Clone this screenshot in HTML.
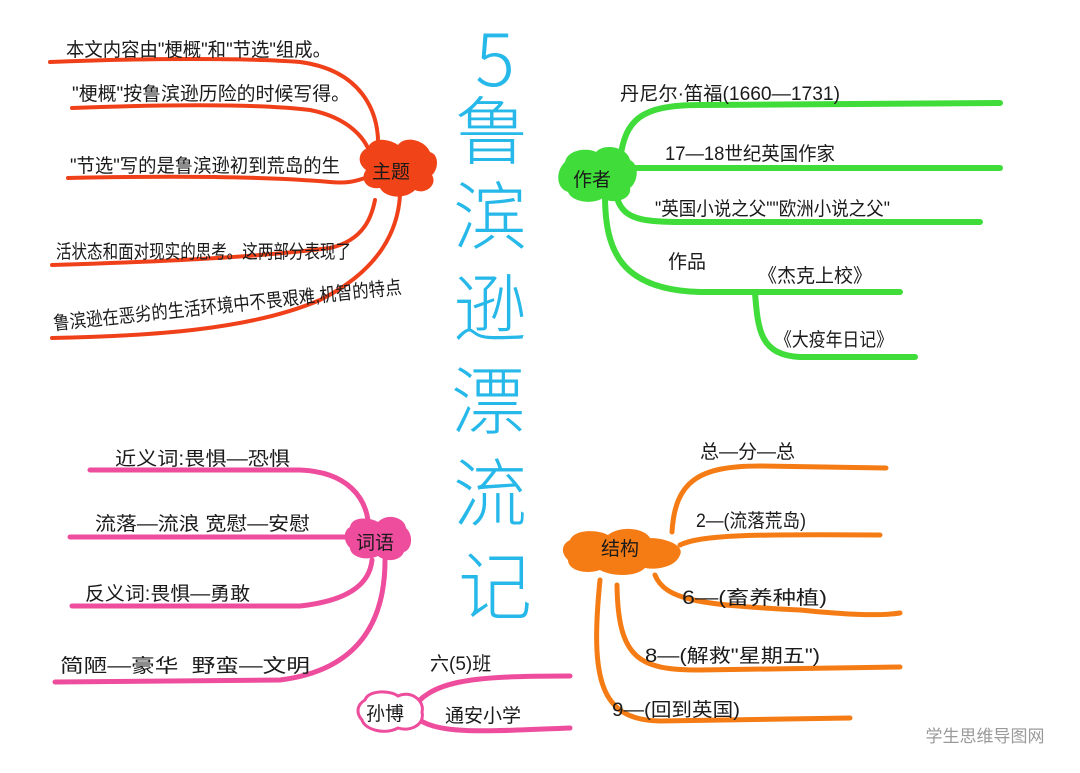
<!DOCTYPE html>
<html><head><meta charset="utf-8"><style>
html,body{margin:0;padding:0;background:#fff;}
svg{display:block}
.t{font-family:"Liberation Sans","Noto Sans CJK SC",sans-serif;fill:#1a1a1a;font-size:19px}
.ti{font-family:"Noto Sans CJK SC","Liberation Sans",sans-serif;fill:#27b8ea;font-size:74px;font-weight:300;text-anchor:middle}
</style></head><body>
<svg width="1080" height="773" viewBox="0 0 1080 773">
<!-- title -->
<text class="ti" x="495" y="86" font-family="Liberation Sans,sans-serif">5</text>
<text class="ti" x="492" y="158">鲁</text>
<text class="ti" x="490" y="243">滨</text>
<text class="ti" x="490" y="335">逊</text>
<text class="ti" x="488" y="428">漂</text>
<text class="ti" x="490" y="520">流</text>
<text class="ti" x="495" y="613">记</text>

<!-- red topic -->
<g fill="none" stroke="#f0401a" stroke-width="4" stroke-linecap="round">
<path d="M50 62 C150 58 250 58 300 62 C360 70 380 110 378 150"/>
<path d="M72 108 C180 104 260 104 310 110 C350 118 368 140 372 160"/>
<path d="M68 178 C160 176 260 176 330 182 C350 184 358 180 365 178"/>
<path d="M52 265 C150 262 250 258 330 248 C365 240 372 215 375 200"/>
<path d="M52 338 C150 336 250 330 320 300 C380 270 398 230 400 195"/>
</g>
<path d="M368 148 C372 135 392 140 398 145 C405 135 425 140 430 152 C440 155 438 170 432 175 C438 185 425 195 415 190 C405 200 385 198 380 188 C365 190 360 178 366 170 C355 162 360 150 368 148Z" fill="#f04318"/>
<text class="t" x="372" y="178" font-size="16">主题</text>
<text class="t" x="66" y="56" textLength="265" lengthAdjust="spacingAndGlyphs">本文内容由"梗概"和"节选"组成。</text>
<text class="t" x="72" y="100" textLength="278" lengthAdjust="spacingAndGlyphs">"梗概"按鲁滨逊历险的时候写得。</text>
<text class="t" x="70" y="172" textLength="270" lengthAdjust="spacingAndGlyphs">"节选"写的是鲁滨逊初到荒岛的生</text>
<text class="t" x="56" y="258" textLength="295" lengthAdjust="spacingAndGlyphs">活状态和面对现实的思考。这两部分表现了</text>
<text class="t" x="54" y="330" textLength="350" lengthAdjust="spacingAndGlyphs" transform="rotate(-6 54 330)">鲁滨逊在恶劣的生活环境中不畏艰难,机智的特点</text>

<!-- green author -->
<g fill="none" stroke="#3fdc3a" stroke-width="6" stroke-linecap="round">
<path d="M620 160 C625 120 640 105 700 105 L1000 103"/>
<path d="M628 168 L1000 168"/>
<path d="M615 190 C620 215 630 222 680 222 L980 222"/>
<path d="M605 195 C605 250 620 290 700 292 L900 292"/>
<path d="M755 293 C758 330 760 355 800 357 L915 357"/>
</g>
<path d="M565 162 C568 148 590 148 596 152 C605 142 628 148 630 160 C640 165 638 182 630 188 C632 200 612 205 603 198 C592 205 572 202 568 192 C555 188 556 170 565 162Z" fill="#3fdc3a"/>
<text class="t" x="573" y="186" font-size="17">作者</text>
<text class="t" x="620" y="100" textLength="220" lengthAdjust="spacingAndGlyphs">丹尼尔·笛福(1660—1731)</text>
<text class="t" x="665" y="160" textLength="170" lengthAdjust="spacingAndGlyphs">17—18世纪英国作家</text>
<text class="t" x="655" y="215" textLength="235" lengthAdjust="spacingAndGlyphs">"英国小说之父""欧洲小说之父"</text>
<text class="t" x="668" y="268">作品</text>
<text class="t" x="758" y="282">《杰克上校》</text>
<text class="t" x="775" y="346" textLength="118" lengthAdjust="spacingAndGlyphs">《大疫年日记》</text>

<!-- pink words -->
<g fill="none" stroke="#ee4d9d" stroke-width="5" stroke-linecap="round">
<path d="M90 470 L300 470 C350 472 365 500 368 520"/>
<path d="M70 537 L350 537"/>
<path d="M72 606 L300 606 C355 600 370 580 372 560"/>
<path d="M55 682 L280 680 C360 670 385 620 385 560"/>
<path d="M365 705 C380 700 400 705 410 712 M410 712 C430 680 470 676 570 676 M410 712 C430 735 470 732 570 728"/>
</g>
<path d="M350 527 C352 515 372 518 378 522 C388 512 405 518 406 528 C414 535 412 550 404 552 C400 562 385 562 378 556 C365 562 350 556 350 548 C342 540 344 530 350 527Z" fill="#ee4d9d"/>
<text class="t" x="356" y="549" font-size="17">词语</text>
<path d="M365 700 C368 690 390 690 398 696 C410 690 425 700 422 712 C425 725 410 732 398 728 C385 735 365 730 362 720 C355 712 358 704 365 700Z" fill="#fff" stroke="#ee4d9d" stroke-width="3"/>
<text class="t" x="366" y="720" font-size="16">孙博</text>
<text class="t" x="430" y="670" font-size="15">六(5)班</text>
<text class="t" x="445" y="722" font-size="18">通安小学</text>
<text class="t" x="115" y="465" textLength="175" lengthAdjust="spacingAndGlyphs">近义词:畏惧—恐惧</text>
<text class="t" x="95" y="530" textLength="215" lengthAdjust="spacingAndGlyphs">流落—流浪 宽慰—安慰</text>
<text class="t" x="85" y="600" textLength="165" lengthAdjust="spacingAndGlyphs">反义词:畏惧—勇敢</text>
<text class="t" x="60" y="672" textLength="250" lengthAdjust="spacingAndGlyphs">简陋—豪华 &#160;野蛮—文明</text>

<!-- orange structure -->
<g fill="none" stroke="#f57c14" stroke-width="5" stroke-linecap="round">
<path d="M672 532 C675 480 700 466 760 466 L886 468"/>
<path d="M680 545 C700 535 750 534 880 535"/>
<path d="M655 575 C665 600 700 605 800 610 C850 615 880 616 900 613"/>
<path d="M617 585 C618 660 640 670 700 670 L900 667"/>
<path d="M600 580 C590 680 600 720 660 721 L850 718"/>
</g>
<path d="M570 540 C575 528 600 530 608 535 C620 525 645 528 650 538 C665 538 685 545 680 555 C675 568 655 570 645 568 C635 578 610 576 600 570 C585 575 568 570 568 560 C560 552 562 544 570 540Z" fill="#f57c14"/>
<text class="t" x="601" y="555" font-size="17">结构</text>
<text class="t" x="700" y="458">总—分—总</text>
<text class="t" x="696" y="527" textLength="110" lengthAdjust="spacingAndGlyphs">2—(流落荒岛)</text>
<text class="t" x="682" y="604" font-size="20" textLength="145" lengthAdjust="spacingAndGlyphs">6—(畜养种植)</text>
<text class="t" x="645" y="662" textLength="175" lengthAdjust="spacingAndGlyphs">8—(解救"星期五")</text>
<text class="t" x="612" y="716" textLength="128" lengthAdjust="spacingAndGlyphs">9—(回到英国)</text>

<text x="985" y="742" font-family="Liberation Sans,Noto Sans CJK SC,sans-serif" font-size="17" fill="#9a9a9a" text-anchor="middle">学生思维导图网</text>
</svg>
</body></html>
